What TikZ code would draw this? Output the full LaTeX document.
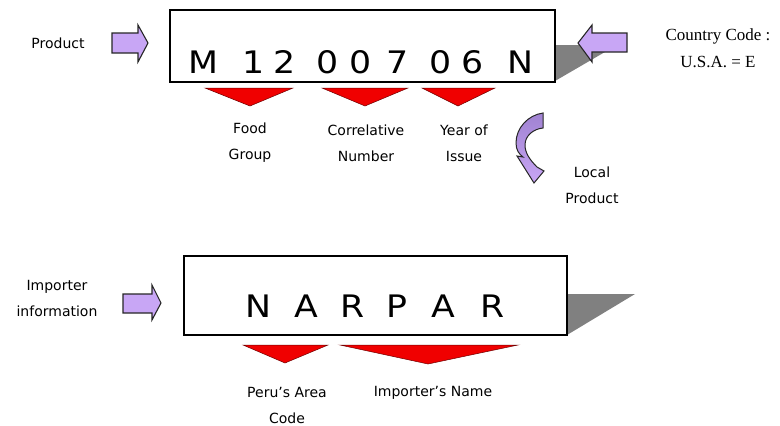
\documentclass[tikz,border=0pt]{standalone}
\usepackage{fontspec}
\setmainfont{DejaVu Sans}
\newfontfamily\codefont[FakeStretch=1.12]{DejaVu Sans}
\newfontfamily\serifcc{Liberation Serif}
\definecolor{lav}{RGB}{200,166,245}
\definecolor{lavdark}{RGB}{160,130,210}
\definecolor{shadowgray}{RGB}{128,128,128}
\definecolor{pointred}{RGB}{240,0,0}
\definecolor{pointedge}{RGB}{110,0,0}
\begin{document}
\begin{tikzpicture}[x=1pt,y=-1pt,
  codebox/.style={draw=black,line width=1.2pt,fill=white,inner sep=0pt},
  blockarrow/.style={draw=black!85,line width=1.1pt,fill=lav,line join=miter},
  pointer/.style={fill=pointred,draw=pointedge,line width=0.5pt},
  shade3d/.style={fill=shadowgray},
  codechar/.style={font=\codefont\fontsize{31}{31}\selectfont,anchor=base,inner sep=0pt},
  lbl/.style={font=\fontsize{14}{26}\selectfont,align=center,inner sep=0pt},
]
\useasboundingbox (0,0) rectangle (780,426);

% 3D shadows behind the boxes
\fill[shade3d] (555,45) -- (617,45) -- (555,81) -- cycle;
\fill[shade3d] (567,294) -- (635,294) -- (567,335) -- cycle;

% code boxes
\node[codebox, minimum width=385pt, minimum height=72pt] (box1) at (362.5,46) {};
\node[codebox, minimum width=383pt, minimum height=79pt] (box2) at (375.5,295.5) {};

% code characters
\foreach \ch/\x [count=\i] in {M/203,1/254,2/285,0/328,0/361,7/398,0/441,6/473,N/520}
  \node[codechar] (c\i) at (\x,73) {\ch};
\foreach \ch/\x [count=\i] in {N/258,A/306,R/353,P/397,A/443,R/493}
  \node[codechar] (n\i) at (\x,317) {\ch};

% block arrows
\draw[blockarrow] (112,33) -- (138,33) -- (138,25) -- (148,43) -- (138,62) -- (138,53) -- (112,53) -- cycle;
\draw[blockarrow] (627,33) -- (592,33) -- (592,25) -- (578,43) -- (592,62) -- (592,52) -- (627,52) -- cycle;
\draw[blockarrow] (123,294) -- (152,294) -- (152,285) -- (161,303) -- (152,320) -- (152,313) -- (123,313) -- cycle;

% curved arrow (local product)
\draw[draw=black!85, line width=1pt, top color=lavdark, bottom color=lav, line join=miter]
  (543,113) .. controls (528,115) and (516,128) .. (516,143)
  .. controls (516,150) and (519,154) .. (523,157)
  -- (517,156) -- (534,183) -- (544,171) -- (537,167)
  .. controls (530,160) and (525,153) .. (525,145)
  .. controls (525,136) and (533,129) .. (543,128) -- cycle;

% red pointers
\filldraw[pointer] (205,88) -- (293,88) -- (250,106) -- cycle;
\filldraw[pointer] (322,88) -- (408,88) -- (365,106) -- cycle;
\filldraw[pointer] (422,88) -- (495,88) -- (458,106) -- cycle;
\filldraw[pointer] (243,345) -- (328,345) -- (285,363) -- cycle;
\filldraw[pointer] (340,345) -- (518,345) -- (428,364) -- cycle;

% labels
\node[lbl] (lproduct) at (58,43) {Product};
\node[lbl] (lfood) at (250,143) {Food\\Group};
\node[lbl] (lcorr) at (366,143) {Correlative\\Number};
\node[lbl] (lyear) at (464,143) {Year of\\Issue};
\node[lbl] (llocal) at (592,185) {Local\\Product};
\node[lbl] (limp) at (57,298) {Importer\\information};
\node[lbl] (lperu) at (287,405) {Peru's Area\\Code};
\node[lbl] (lname) at (433,393) {Importer's Name};
\node[font=\serifcc\fontsize{17}{27}\selectfont, align=center, inner sep=0pt] (lcountry) at (718,48) {Country Code :\\U.S.A. = E};
\end{tikzpicture}
\end{document}
